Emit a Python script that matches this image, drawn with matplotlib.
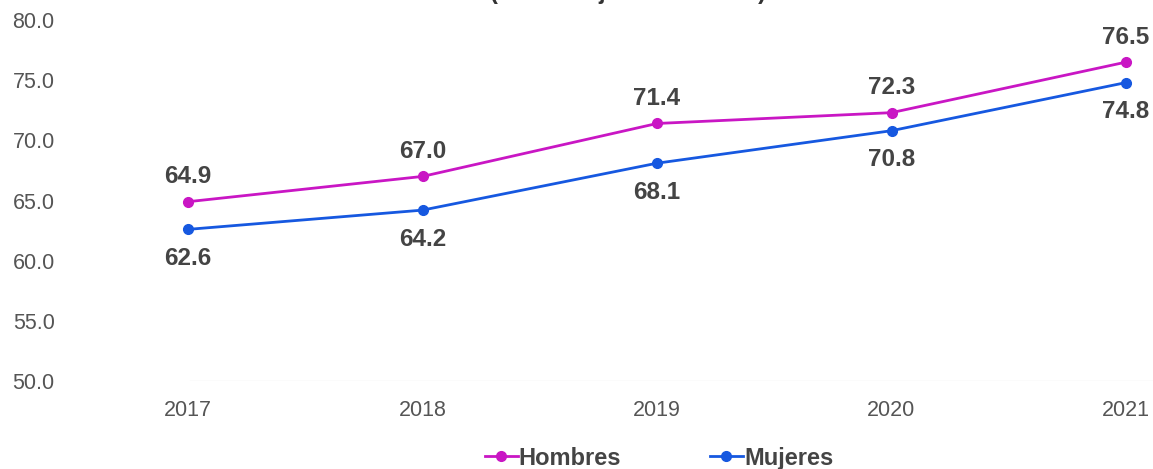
import matplotlib.pyplot as plt
import numpy as np

plt.rcParams['font.family'] = ['Liberation Sans', 'DejaVu Sans']

years = [2017, 2018, 2019, 2020, 2021]
hombres = [64.9, 67.0, 71.4, 72.3, 76.5]
mujeres = [62.6, 64.2, 68.1, 70.8, 74.8]
yticks = [50, 55, 60, 65, 70, 75, 80]

c_h = '#c916c4'
c_m = '#1658e0'

W, H = 1153, 469
fig = plt.figure(figsize=(W / 100, H / 100), dpi=100)
ax = fig.add_axes([70 / W, 88 / H, (W - 70) / W, 361 / H])

ax.plot(years, hombres, color=c_h, lw=2, marker='o', ms=7, label='Hombres', clip_on=False)
ax.plot(years, mujeres, color=c_m, lw=2, marker='o', ms=7, label='Mujeres', clip_on=False)

# value labels: men above, women below
for x, yh, ym in zip(years, hombres, mujeres):
    ax.annotate(f'{yh:.1f}', (x, yh), xytext=(0, 18), textcoords='offset points',
                ha='center', va='center', fontsize=17.5, fontweight='bold', color='#444444')
    ax.annotate(f'{ym:.1f}', (x, ym), xytext=(0, -21), textcoords='offset points',
                ha='center', va='center', fontsize=17.5, fontweight='bold', color='#444444')

ax.set_xlim(2017 - 118 / 234.5, 2021 + 27 / 234.5)
ax.set_ylim(50, 80)
ax.set_xticks(years)
ax.set_yticks(yticks)
ax.set_yticklabels([f'{v:.1f}' for v in yticks])
ax.tick_params(axis='both', length=0, labelsize=15.5, colors='#555555')
ax.tick_params(axis='y', pad=11)
ax.tick_params(axis='x', pad=14)
for s in ax.spines.values():
    s.set_visible(False)
ax.axhline(50, xmin=120 / (W - 70), xmax=1, color='#eeeeee', lw=1)

# title is cut off at the top in the original
fig.text(628 / W, 1 + 8 / H, '(Porcentaje de usuarios)', ha='center', va='center',
         fontsize=17, fontweight='bold', color='#333333')

fig.legend(loc='center', bbox_to_anchor=(659 / W, 11 / H), ncol=2, frameon=False,
           prop={'size': 17, 'weight': 'bold'}, labelcolor='#444444',
           handlelength=1.4, handletextpad=0.05, columnspacing=3.75)

fig.savefig('out.png', dpi=100)
